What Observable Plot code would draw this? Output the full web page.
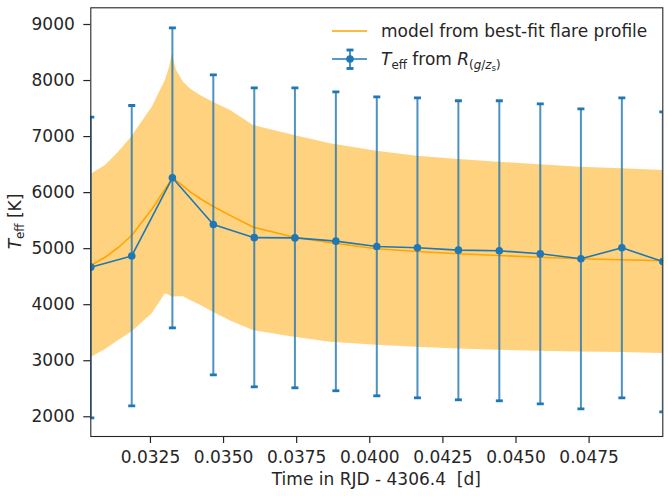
<!DOCTYPE html>
<html><head><meta charset="utf-8">
<script src="https://cdn.jsdelivr.net/npm/d3@7"></script>
<script src="https://cdn.jsdelivr.net/npm/@observablehq/plot@0.6"></script>
<style>body{margin:0;background:#fff}</style>
</head><body><div id="chart"></div>
<script>
// Observations: T_eff from colour ratio, with error bars
const obsTime = [0.03046, 0.03186, 0.03325, 0.03465, 0.03605, 0.03744, 0.03884, 0.04024, 0.04163, 0.04303, 0.04443, 0.04583, 0.04722, 0.04862, 0.05002];
const obsTeff = [4670, 4870, 6264, 5432, 5196, 5192, 5134, 5039, 5015, 4973, 4962, 4908, 4819, 5015, 4770];
const obsHigh = [7346, 7555, 8941, 8102, 7870, 7868, 7799, 7710, 7692, 7639, 7639, 7585, 7496, 7692, 7442];
const obsLow  = [1981, 2195, 3588, 2749, 2535, 2517, 2464, 2374, 2338, 2303, 2285, 2231, 2142, 2338, 2089];

// Model from best-fit flare profile, with its uncertainty band
const modelTime = [0.03046, 0.03096, 0.03141, 0.03185, 0.03256, 0.03301, 0.03315, 0.03325, 0.03339, 0.03363, 0.03387, 0.03421, 0.03465, 0.03524, 0.03602, 0.03742, 0.03866, 0.04023, 0.04163, 0.04303, 0.04440, 0.04580, 0.04720, 0.04861, 0.05002];
const modelTeff = [4700, 4850, 5025, 5230, 5711, 6068, 6180, 6264, 6215, 6110, 6010, 5890, 5752, 5590, 5383, 5205, 5105, 4997, 4950, 4908, 4878, 4848, 4819, 4801, 4783];
const modelHigh = [6323, 6484, 6722, 6989, 7525, 8000, 8230, 8477, 8180, 7970, 7850, 7733, 7614, 7465, 7198, 7019, 6871, 6740, 6650, 6591, 6543, 6496, 6453, 6425, 6395];
const modelLow  = [3052, 3200, 3360, 3510, 3837, 4194, 4165, 4134, 4140, 4140, 4075, 3990, 3866, 3710, 3540, 3420, 3328, 3277, 3241, 3211, 3188, 3170, 3158, 3147, 3129];

const xTicks = [0.0325, 0.0350, 0.0375, 0.0400, 0.0425, 0.0450, 0.0475];
const yTicks = [2000, 3000, 4000, 5000, 6000, 7000, 8000, 9000];

const obs = obsTime.map((t, i) => ({t, teff: obsTeff[i], lo: obsLow[i], hi: obsHigh[i]}));
const model = modelTime.map((t, i) => ({t, mid: modelTeff[i], lo: modelLow[i], hi: modelHigh[i]}));

const BLUE = "#1f77b4", ORANGE = "#FFA500", INK = "#262626";
const FONT = "DejaVu Sans";
const cap = {draw(ctx) { ctx.rect(-3.5, -1.4, 7, 2.8); }};
const NS = 17, SUB = 11.9, SUBSUB = 8.7;

const chart = Plot.plot({
  width: 668, height: 496,
  marginLeft: 90.3, marginRight: 5.7, marginTop: 7.3, marginBottom: 60,
  style: {fontFamily: FONT, fontSize: NS + "px", color: INK, background: "#fff", overflow: "visible"},
  x: {domain: [0.03046, 0.05002], label: null},
  y: {domain: [1648, 9298], label: null},
  marks: [
    Plot.areaY(model, {x: "t", y1: "lo", y2: "hi", fill: ORANGE, fillOpacity: 0.5}),
    Plot.lineY(model, {x: "t", y: "mid", stroke: ORANGE, strokeWidth: 1.6}),
    Plot.ruleX(obs, {x: "t", y1: "lo", y2: "hi", stroke: BLUE, strokeOpacity: 0.8, strokeWidth: 2, clip: true}),
    Plot.dot(obs, {x: "t", y: "lo", symbol: cap, fill: BLUE, clip: true}),
    Plot.dot(obs, {x: "t", y: "hi", symbol: cap, fill: BLUE, clip: true}),
    Plot.line(obs, {x: "t", y: "teff", stroke: BLUE, strokeWidth: 1.6, clip: true}),
    Plot.dot(obs, {x: "t", y: "teff", r: 3.8, fill: BLUE, clip: true}),
    Plot.axisX({ticks: xTicks, tickFormat: d3.format(".4f"), tickSize: 7, tickPadding: 7.5, label: null, strokeWidth: 1.2}),
    Plot.axisY({ticks: yTicks, tickFormat: d3.format("d"), tickSize: 7, tickPadding: 9, label: null, strokeWidth: 1.2}),
    Plot.frame({stroke: INK, strokeWidth: 1.1})
  ]
});

const svg = d3.select(chart);

// X axis label
svg.append("text")
  .attr("x", 376.3).attr("y", 479).attr("dy", "0.35em")
  .attr("text-anchor", "middle").attr("fill", INK)
  .attr("font-family", FONT).attr("font-size", NS)
  .style("white-space", "pre")
  .text("Time in RJD - 4306.4  [d]");

// Y axis label (rotated)
const yl = svg.append("text")
  .attr("transform", "translate(20.5,221.5) rotate(-90)")
  .attr("text-anchor", "middle").attr("fill", INK)
  .attr("font-family", FONT).attr("font-size", NS);
yl.append("tspan").attr("font-style", "italic").text("T");
yl.append("tspan").attr("font-size", SUB).attr("dy", 3.6).text("eff");
yl.append("tspan").attr("dy", -3.6).text(" [K]");

// Legend
const lg = svg.append("g").attr("font-family", FONT).attr("font-size", NS).attr("fill", INK).attr("text-anchor", "start");
lg.append("line").attr("x1", 332).attr("x2", 367).attr("y1", 31).attr("y2", 31)
  .attr("stroke", ORANGE).attr("stroke-width", 1.6);
lg.append("text").attr("x", 381).attr("y", 31).attr("dy", "0.35em").text("model from best-fit flare profile");

lg.append("line").attr("x1", 332).attr("x2", 367).attr("y1", 59).attr("y2", 59)
  .attr("stroke", BLUE).attr("stroke-width", 1.6);
lg.append("line").attr("x1", 350).attr("x2", 350).attr("y1", 50).attr("y2", 68.5)
  .attr("stroke", BLUE).attr("stroke-opacity", 0.8).attr("stroke-width", 2);
lg.append("rect").attr("x", 346.5).attr("y", 48.6).attr("width", 7).attr("height", 2.8).attr("fill", BLUE);
lg.append("rect").attr("x", 346.5).attr("y", 67.1).attr("width", 7).attr("height", 2.8).attr("fill", BLUE);
lg.append("circle").attr("cx", 350).attr("cy", 59).attr("r", 3.8).attr("fill", BLUE);

const t2 = lg.append("text").attr("x", 381).attr("y", 59).attr("dy", "0.35em");
t2.append("tspan").attr("font-style", "italic").text("T");
t2.append("tspan").attr("font-size", SUB).attr("dy", 3.6).text("eff");
t2.append("tspan").attr("dy", -3.6).style("white-space", "pre").text(" from ");
t2.append("tspan").attr("font-style", "italic").text("R");
t2.append("tspan").attr("font-size", SUB).attr("dy", 4).text("(");
t2.append("tspan").attr("font-size", SUB).attr("font-style", "italic").text("g");
t2.append("tspan").attr("font-size", SUB).text("/");
t2.append("tspan").attr("font-size", SUB).attr("font-style", "italic").text("z");
t2.append("tspan").attr("font-size", SUBSUB).attr("dy", 2.5).text("s");
t2.append("tspan").attr("font-size", SUB).attr("dy", -2.5).text(")");

document.getElementById("chart").appendChild(chart);
</script>
</body></html>
